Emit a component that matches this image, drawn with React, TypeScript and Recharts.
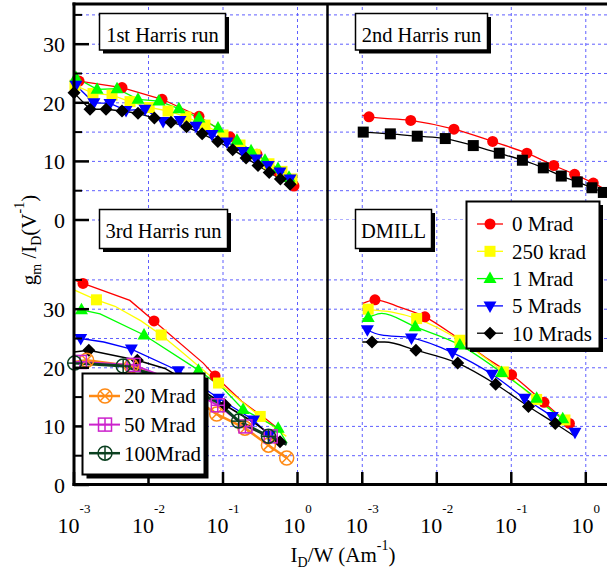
import React from 'react';
import { ComposedChart, Line, XAxis, YAxis, ReferenceLine } from 'recharts';

type Pt = [number, number];

// Each point: [I_D/W (A/m), g_m/I_D (1/V)]

// ---- 1st Harris run ----
const run1_0Mrad: Pt[] = [[0.00117, 23.7], [0.00441, 22.6], [0.0152, 20.6], [0.0476, 17.7], [0.124, 14.2], [0.286, 11.2], [0.547, 8.3], [0.897, 5.8]];
const run1_250krad: Pt[] = [[0.00103, 23.0], [0.0018, 21.6], [0.00324, 21.3], [0.00565, 20.2], [0.0102, 19.2], [0.0183, 18.6], [0.0318, 17.6], [0.0573, 16.2], [0.1, 14.5], [0.169, 12.8], [0.269, 11.2], [0.414, 9.6], [0.619, 8.3], [0.843, 7.0]];
const run1_1Mrad: Pt[] = [[0.00106, 24.3], [0.00204, 22.3], [0.00378, 22.4], [0.00723, 20.6], [0.0138, 20.3], [0.0256, 19.0], [0.0476, 17.4], [0.0857, 15.7], [0.154, 13.6], [0.238, 11.8], [0.366, 10.2], [0.547, 8.8], [0.769, 7.3]];
const run1_5Mrad: Pt[] = [[0.00106, 23.0], [0.00185, 20.0], [0.00304, 19.9], [0.00499, 18.7], [0.00897, 18.9], [0.0157, 16.8], [0.0265, 17.0], [0.0435, 16.0], [0.0711, 14.6], [0.113, 13.3], [0.185, 11.7], [0.277, 10.4], [0.402, 9.3], [0.582, 8.2], [0.793, 7.0]];
const run1_10Mrad: Pt[] = [[0.001, 21.7], [0.00164, 18.9], [0.00269, 18.9], [0.00441, 18.6], [0.00723, 18.2], [0.012, 17.4], [0.02, 16.7], [0.0324, 15.9], [0.0525, 14.7], [0.0851, 13.4], [0.135, 12.0], [0.204, 10.6], [0.295, 9.3], [0.417, 8.1], [0.589, 7.0], [0.794, 6.1]];

// ---- 2nd Harris run ----
const run2_0MradLine: Pt[] = [[0.001, 17.9], [0.00123, 17.6], [0.00447, 17.0], [0.017, 15.5], [0.0562, 13.4], [0.162, 11.4], [0.372, 9.3], [0.708, 7.8], [1.26, 6.3], [1.9, 5.1]];
const run2_0MradMarks: Pt[] = [[0.00123, 17.6], [0.00447, 17.0], [0.017, 15.5], [0.0562, 13.4], [0.162, 11.4], [0.372, 9.3], [0.708, 7.8], [1.26, 6.3]];
const run2_10Mrad: Pt[] = [[0.00103, 15.0], [0.00238, 14.7], [0.00547, 14.3], [0.013, 13.9], [0.0309, 12.7], [0.069, 11.4], [0.141, 10.2], [0.269, 8.9], [0.469, 7.5], [0.769, 6.5], [1.21, 5.5], [1.72, 4.7]];

// ---- 3rd Harris run ----
const run3_0MradLine: Pt[] = [[0.001, 35.0], [0.00132, 34.4], [0.00562, 31.5], [0.01186, 28.0], [0.0543, 20.8], [0.0782, 18.6], [0.178, 14.3], [0.355, 11.5], [0.631, 9.0]];
const run3_0MradMarks: Pt[] = [[0.00132, 34.4], [0.01186, 28.0], [0.0782, 18.6]];
const run3_250kradLine: Pt[] = [[0.001, 33.3], [0.002, 31.6], [0.00355, 30.5], [0.00794, 28.0], [0.0148, 25.6], [0.0263, 23.0], [0.0871, 17.4], [0.316, 11.7], [0.708, 8.3]];
const run3_250kradMarks: Pt[] = [[0.002, 31.6], [0.0148, 25.6], [0.0871, 17.4], [0.316, 11.7]];
const run3_1MradLine: Pt[] = [[0.001, 30.0], [0.00126, 29.9], [0.00224, 29.2], [0.00871, 25.6], [0.0468, 19.6], [0.1, 16.5], [0.186, 12.9], [0.55, 9.7], [0.724, 7.1]];
const run3_1MradMarks: Pt[] = [[0.00126, 29.9], [0.00871, 25.6], [0.0468, 19.6], [0.186, 12.9], [0.55, 9.7]];
const run3_5MradLine: Pt[] = [[0.001, 25.0], [0.00123, 25.0], [0.00251, 24.4], [0.00589, 23.2], [0.0251, 19.5], [0.0871, 14.8], [0.257, 11.1], [0.417, 8.5], [0.631, 7.5]];
const run3_5MradMarks: Pt[] = [[0.00123, 25.0], [0.00589, 23.2], [0.0251, 19.5], [0.0871, 14.8], [0.257, 11.1], [0.417, 8.5]];
const run3_10MradLine: Pt[] = [[0.001, 22.7], [0.00158, 23.0], [0.00708, 21.3], [0.0166, 19.9], [0.0501, 16.3], [0.107, 13.6], [0.251, 10.8], [0.582, 7.4], [0.708, 6.8]];
const run3_10MradMarks: Pt[] = [[0.00158, 23.0], [0.00708, 21.3], [0.107, 13.6], [0.582, 7.4]];
const run3_20MradLine: Pt[] = [[0.001, 21.0], [0.00148, 21.3], [0.00589, 20.3], [0.02, 17.5], [0.0822, 12.1], [0.197, 9.7], [0.407, 6.8], [0.716, 4.6]];
const run3_20MradMarks: Pt[] = [[0.00148, 21.3], [0.00589, 20.3], [0.0822, 12.1], [0.197, 9.7], [0.407, 6.8], [0.716, 4.6]];
const run3_50MradLine: Pt[] = [[0.001, 21.0], [0.0012, 21.0], [0.00631, 20.5], [0.02, 18.0], [0.0851, 13.6], [0.2, 10.0], [0.437, 8.3], [0.631, 7.6]];
const run3_50MradMarks: Pt[] = [[0.0012, 21.0], [0.00631, 20.5], [0.0851, 13.6], [0.2, 10.0], [0.437, 8.3]];
const run3_100MradLine: Pt[] = [[0.001, 20.8], [0.00102, 20.8], [0.00457, 20.3], [0.02, 18.0], [0.0832, 14.2], [0.162, 10.9], [0.407, 8.3], [0.716, 7.0]];
const run3_100MradMarks: Pt[] = [[0.00102, 20.8], [0.00457, 20.3], [0.162, 10.9], [0.407, 8.3]];

// ---- DMILL ----
const dmill_0MradLine: Pt[] = [[0.00102, 31.0], [0.00148, 31.6], [0.00324, 30.3], [0.00692, 28.7], [0.0195, 25.0], [0.0447, 21.8], [0.101, 18.8], [0.275, 14.1], [0.603, 10.5], [0.708, 10.0]];
const dmill_0MradMarks: Pt[] = [[0.00148, 31.6], [0.00692, 28.7], [0.101, 18.8], [0.275, 14.1], [0.603, 10.5]];
const dmill_250kradLine: Pt[] = [[0.001, 30.4], [0.0012, 30.0], [0.00251, 29.5], [0.00537, 28.4], [0.0204, 24.7], [0.0782, 19.3], [0.219, 14.6], [0.525, 11.1], [0.661, 10.3]];
const dmill_250kradMarks: Pt[] = [[0.0012, 30.0], [0.00537, 28.4], [0.0204, 24.7], [0.0782, 19.3], [0.219, 14.6], [0.525, 11.1]];
const dmill_1MradLine: Pt[] = [[0.001, 28.3], [0.0012, 28.6], [0.00182, 29.3], [0.00513, 27.0], [0.0204, 23.9], [0.0741, 19.2], [0.219, 14.8], [0.49, 11.3], [0.631, 10.5]];
const dmill_1MradMarks: Pt[] = [[0.0012, 28.6], [0.00513, 27.0], [0.0204, 23.9], [0.0741, 19.2], [0.219, 14.8], [0.49, 11.3]];
const dmill_5MradLine: Pt[] = [[0.001, 27.0], [0.00117, 26.5], [0.00178, 25.6], [0.00457, 25.1], [0.0162, 22.6], [0.055, 18.9], [0.151, 14.8], [0.355, 11.7], [0.716, 9.0]];
const dmill_5MradMarks: Pt[] = [[0.00117, 26.5], [0.00457, 25.1], [0.0162, 22.6], [0.055, 18.9], [0.151, 14.8], [0.355, 11.7], [0.716, 9.0]];
const dmill_10MradLine: Pt[] = [[0.001, 24.4], [0.00135, 24.4], [0.002, 24.4], [0.00525, 23.0], [0.0191, 20.8], [0.0617, 17.2], [0.17, 13.4], [0.389, 10.5], [0.676, 8.5]];
const dmill_10MradMarks: Pt[] = [[0.00135, 24.4], [0.00525, 23.0], [0.0191, 20.8], [0.0617, 17.2], [0.17, 13.4], [0.389, 10.5]];

// Axis ticks and labels
const decadeTicks = [0.001, 0.01, 0.1, 1];
const gmTicks = [0, 5, 10, 15, 20, 25, 30, 35];
const bottomGrid = [5, 10, 15, 20, 25, 30, 35];
const doseLegend = ['0 Mrad', '250 krad', '1 Mrad', '5 Mrads', '10 Mrads'];
const highDoseLegend = ['20 Mrad', '50 Mrad', '100Mrad'];

const FONT = '"Liberation Serif", "Times New Roman", Times, serif';
const GRID = '#5f5fff';

type Shape = 'circle' | 'square' | 'triUp' | 'triDown' | 'diamond' | 'circleX' | 'squarePlus' | 'circlePlus';

interface Series {
  key: string;
  line: Pt[];
  marks: Pt[];
  color: string;
  shape: Shape;
  width: number;
}

const RED = '#ff0000';
const YELLOW = '#ffff00';
const GREEN = '#00ff00';
const BLUE = '#0000ff';
const BLACK = '#000000';
const ORANGE = '#ff8a14';
const MAGENTA = '#cc22cc';
const DKGREEN = '#0b4020';

function Marker({ cx, cy, shape, color }: { cx: number; cy: number; shape: Shape; color: string }) {
  if (cx == null || cy == null || isNaN(cx) || isNaN(cy)) return null;
  switch (shape) {
    case 'circle':
      return <circle cx={cx} cy={cy} r={5.5} fill={color} />;
    case 'square':
      return <rect x={cx - 5.5} y={cy - 5.5} width={11} height={11} fill={color} />;
    case 'triUp':
      return <polygon points={`${cx},${cy - 7} ${cx + 6.5},${cy + 4.5} ${cx - 6.5},${cy + 4.5}`} fill={color} />;
    case 'triDown':
      return <polygon points={`${cx},${cy + 7} ${cx + 6.5},${cy - 4.5} ${cx - 6.5},${cy - 4.5}`} fill={color} />;
    case 'diamond':
      return <polygon points={`${cx},${cy - 6.5} ${cx + 6.5},${cy} ${cx},${cy + 6.5} ${cx - 6.5},${cy}`} fill={color} />;
    case 'circleX': {
      const d = 5;
      return (
        <g stroke={color} strokeWidth={1.5} fill="none">
          <circle cx={cx} cy={cy} r={7} />
          <line x1={cx - d} y1={cy - d} x2={cx + d} y2={cy + d} />
          <line x1={cx - d} y1={cy + d} x2={cx + d} y2={cy - d} />
        </g>
      );
    }
    case 'squarePlus':
      return (
        <g stroke={color} strokeWidth={1.5} fill="none">
          <rect x={cx - 6.5} y={cy - 6.5} width={13} height={13} />
          <line x1={cx - 6.5} y1={cy} x2={cx + 6.5} y2={cy} />
          <line x1={cx} y1={cy - 6.5} x2={cx} y2={cy + 6.5} />
        </g>
      );
    case 'circlePlus':
      return (
        <g stroke={color} strokeWidth={1.5} fill="none">
          <circle cx={cx} cy={cy} r={7} />
          <line x1={cx - 7} y1={cy} x2={cx + 7} y2={cy} />
          <line x1={cx} y1={cy - 7} x2={cx} y2={cy + 7} />
        </g>
      );
    default:
      return null;
  }
}

const same = (pts: Pt[]) => ({ line: pts, marks: pts });

const run1Series: Series[] = [
  { key: 'r1-0', ...same(run1_0Mrad), color: RED, shape: 'circle', width: 1.3 },
  { key: 'r1-250', ...same(run1_250krad), color: YELLOW, shape: 'square', width: 1.3 },
  { key: 'r1-1', ...same(run1_1Mrad), color: GREEN, shape: 'triUp', width: 1.3 },
  { key: 'r1-5', ...same(run1_5Mrad), color: BLUE, shape: 'triDown', width: 1.3 },
  { key: 'r1-10', ...same(run1_10Mrad), color: BLACK, shape: 'diamond', width: 1.3 },
];

const run2Series: Series[] = [
  { key: 'r2-0', line: run2_0MradLine, marks: run2_0MradMarks, color: RED, shape: 'circle', width: 1.3 },
  { key: 'r2-10', ...same(run2_10Mrad), color: BLACK, shape: 'square', width: 1.3 },
];

const run3Series: Series[] = [
  { key: 'r3-0', line: run3_0MradLine, marks: run3_0MradMarks, color: RED, shape: 'circle', width: 1.3 },
  { key: 'r3-250', line: run3_250kradLine, marks: run3_250kradMarks, color: YELLOW, shape: 'square', width: 1.3 },
  { key: 'r3-1', line: run3_1MradLine, marks: run3_1MradMarks, color: GREEN, shape: 'triUp', width: 1.3 },
  { key: 'r3-5', line: run3_5MradLine, marks: run3_5MradMarks, color: BLUE, shape: 'triDown', width: 1.3 },
  { key: 'r3-10', line: run3_10MradLine, marks: run3_10MradMarks, color: BLACK, shape: 'diamond', width: 1.6 },
  { key: 'r3-20', line: run3_20MradLine, marks: run3_20MradMarks, color: ORANGE, shape: 'circleX', width: 2.5 },
  { key: 'r3-50', line: run3_50MradLine, marks: run3_50MradMarks, color: MAGENTA, shape: 'squarePlus', width: 2 },
  { key: 'r3-100', line: run3_100MradLine, marks: run3_100MradMarks, color: DKGREEN, shape: 'circlePlus', width: 3 },
];

const dmillSeries: Series[] = [
  { key: 'd-0', line: dmill_0MradLine, marks: dmill_0MradMarks, color: RED, shape: 'circle', width: 1.3 },
  { key: 'd-250', line: dmill_250kradLine, marks: dmill_250kradMarks, color: YELLOW, shape: 'square', width: 1.3 },
  { key: 'd-1', line: dmill_1MradLine, marks: dmill_1MradMarks, color: GREEN, shape: 'triUp', width: 1.3 },
  { key: 'd-5', line: dmill_5MradLine, marks: dmill_5MradMarks, color: BLUE, shape: 'triDown', width: 1.3 },
  { key: 'd-10', line: dmill_10MradLine, marks: dmill_10MradMarks, color: BLACK, shape: 'diamond', width: 1.3 },
];

const legendShapes: { color: string; shape: Shape; width: number }[] = [
  { color: RED, shape: 'circle', width: 1.3 },
  { color: YELLOW, shape: 'square', width: 1.3 },
  { color: GREEN, shape: 'triUp', width: 1.3 },
  { color: BLUE, shape: 'triDown', width: 1.3 },
  { color: BLACK, shape: 'diamond', width: 1.3 },
];
const highLegendShapes: { color: string; shape: Shape; width: number }[] = [
  { color: ORANGE, shape: 'circleX', width: 2.5 },
  { color: MAGENTA, shape: 'squarePlus', width: 2 },
  { color: DKGREEN, shape: 'circlePlus', width: 2.5 },
];

const XTick = (props: any) => {
  const { x, y, payload } = props;
  const exp = Math.round(Math.log10(payload.value));
  return (
    <g>
      <line x1={x} y1={y} x2={x} y2={y - 13} stroke="#000" strokeWidth={2.5} />
      <text x={x} y={y + 48} textAnchor="middle" fontFamily={FONT} fontSize={22} fill="#000">
        10<tspan fontSize={13} dy={-20}>{exp}</tspan>
      </text>
    </g>
  );
};

const YTick = (props: any) => {
  const { x, y, payload } = props;
  const major = payload.value % 10 === 0;
  return (
    <g>
      <line x1={x} y1={y} x2={x + (major ? 15 : 8)} y2={y} stroke="#000" strokeWidth={major ? 2.5 : 2} />
      {major && (
        <text x={x - 9} y={y} dy="0.36em" textAnchor="end" fontFamily={FONT} fontSize={22} fill="#000">
          {payload.value}
        </text>
      )}
    </g>
  );
};

const toRows = (pts: Pt[]) => pts.map(([x, y]) => ({ x, y }));

interface PanelProps {
  series: Series[];
  xDomain: [number, number];
  yDomain: [number, number];
  width: number;
  height: number;
  margin: { top: number; right: number; bottom: number; left: number };
  showX: boolean;
  showY: boolean;
  curve: 'linear' | 'monotone';
  vGrid: number[];
  hGrid: number[];
}

function Panel({ series, xDomain, yDomain, width, height, margin, showX, showY, curve, vGrid, hGrid }: PanelProps) {
  return (
    <ComposedChart width={width} height={height} margin={margin}>
      <XAxis
        type="number"
        dataKey="x"
        scale="log"
        domain={xDomain}
        ticks={decadeTicks}
        interval={0}
        hide={!showX}
        height={88}
        tickLine={false}
        axisLine={false}
        tickSize={0}
        tickMargin={0}
        tick={<XTick />}
      />
      <YAxis
        type="number"
        dataKey="y"
        domain={yDomain}
        ticks={gmTicks}
        interval={0}
        hide={!showY}
        width={74}
        tickLine={false}
        axisLine={false}
        tickSize={0}
        tickMargin={0}
        tick={<YTick />}
      />
      {hGrid.map((v) => (
        <ReferenceLine key={`h${v}`} y={v} stroke={GRID} strokeDasharray="3 3" strokeWidth={1} />
      ))}
      {vGrid.map((v) => (
        <ReferenceLine key={`v${v}`} x={v} stroke={GRID} strokeDasharray="3 3" strokeWidth={1} />
      ))}
      {series.map((s) => (
        <Line
          key={`${s.key}-line`}
          data={toRows(s.line)}
          dataKey="y"
          type={curve}
          stroke={s.color}
          strokeWidth={s.width}
          dot={false}
          activeDot={false}
          isAnimationActive={false}
        />
      ))}
      {series.map((s) => (
        <Line
          key={`${s.key}-marks`}
          data={toRows(s.marks)}
          dataKey="y"
          stroke="none"
          activeDot={false}
          isAnimationActive={false}
          dot={(p: any) => (
            <Marker key={`${s.key}-m${p.index}`} cx={p.cx} cy={p.cy} shape={s.shape} color={s.color} />
          )}
        />
      ))}
    </ComposedChart>
  );
}

function LabelBox({ x, y, w, h, text }: { x: number; y: number; w: number; h: number; text: string }) {
  return (
    <g>
      <rect x={x + 3.5} y={y + 3.5} width={w} height={h} fill="#000" />
      <rect x={x} y={y} width={w} height={h} fill="#fff" stroke="#000" strokeWidth={1.5} />
      <text x={x + w / 2} y={y + 28.5} textAnchor="middle" fontSize={20.5} fontFamily={FONT} fill="#000">
        {text}
      </text>
    </g>
  );
}

// Panel geometry: decade width 74.5 px, right panels start a half decade before 10^-3
const leftX: [number, number] = [0.001, 2.566];
const rightX: [number, number] = [3.467e-4, 2.113];
const topY: [number, number] = [0, 36.86];
const bottomY: [number, number] = [0, 45.22];

export default function App() {
  return (
    <div
      style={{
        position: 'absolute',
        left: 0,
        top: 0,
        width: 607,
        height: 573,
        overflow: 'hidden',
        background: '#fff',
        fontFamily: FONT,
      }}
    >
      <div style={{ position: 'absolute', left: 0, top: 0 }}>
        <Panel
          series={run1Series}
          xDomain={leftX}
          yDomain={topY}
          width={328}
          height={232}
          margin={{ top: 4, right: 0, bottom: 12, left: 0 }}
          showX={false}
          showY={true}
          curve="linear"
          vGrid={[0.01, 0.1, 1]}
          hGrid={gmTicks}
        />
      </div>
      <div style={{ position: 'absolute', left: 328, top: 0 }}>
        <Panel
          series={run2Series}
          xDomain={rightX}
          yDomain={topY}
          width={282}
          height={220}
          margin={{ top: 4, right: 0, bottom: 0, left: 0 }}
          showX={false}
          showY={false}
          curve="monotone"
          vGrid={decadeTicks}
          hGrid={gmTicks}
        />
      </div>
      <div style={{ position: 'absolute', left: 0, top: 220 }}>
        <Panel
          series={run3Series}
          xDomain={leftX}
          yDomain={bottomY}
          width={328}
          height={353}
          margin={{ top: 0, right: 0, bottom: 0, left: 0 }}
          showX={true}
          showY={true}
          curve="linear"
          vGrid={[0.01, 0.1, 1]}
          hGrid={bottomGrid}
        />
      </div>
      <div style={{ position: 'absolute', left: 328, top: 220 }}>
        <Panel
          series={dmillSeries}
          xDomain={rightX}
          yDomain={bottomY}
          width={282}
          height={353}
          margin={{ top: 0, right: 0, bottom: 0, left: 0 }}
          showX={true}
          showY={false}
          curve="monotone"
          vGrid={decadeTicks}
          hGrid={bottomGrid}
        />
      </div>

      <svg width={607} height={573} style={{ position: 'absolute', left: 0, top: 0, pointerEvents: 'none' }}>
        {/* frame */}
        <line x1={72.5} y1={4} x2={607} y2={4} stroke="#000" strokeWidth={3} />
        <line x1={74} y1={2.5} x2={74} y2={486} stroke="#000" strokeWidth={3} />
        <line x1={72.5} y1={484.5} x2={607} y2={484.5} stroke="#000" strokeWidth={3} />
        <line x1={327.5} y1={4} x2={327.5} y2={485} stroke="#000" strokeWidth={2.5} />

        <LabelBox x={99.5} y={13.5} w={126} h={36.5} text="1st Harris run" />
        <LabelBox x={355.5} y={13.5} w={132} h={36.5} text="2nd Harris run" />
        <LabelBox x={99.5} y={209.5} w={128} h={39} text="3rd Harris run" />
        <LabelBox x={355.5} y={209.5} w={76} h={39} text="DMILL" />

        {/* dose legend */}
        <rect x={470} y={205} width={133} height={147} fill="#000" />
        <rect x={466.5} y={201.5} width={133} height={147} fill="#fff" stroke="#000" strokeWidth={2} />
        {doseLegend.map((name, i) => {
          const cy = 224 + i * 27.3;
          const st = legendShapes[i];
          return (
            <g key={name}>
              <line x1={477} y1={cy} x2={503} y2={cy} stroke={st.color} strokeWidth={st.width} />
              <Marker cx={490} cy={cy} shape={st.shape} color={st.color} />
              <text x={512} y={cy} dy="0.35em" fontSize={21} fontFamily={FONT} fill="#000">
                {name}
              </text>
            </g>
          );
        })}

        {/* high dose legend */}
        <rect x={86.5} y={377.5} width={122} height={101} fill="#000" />
        <rect x={82.5} y={373.5} width={122} height={101} fill="#fff" stroke="#000" strokeWidth={2} />
        {highDoseLegend.map((name, i) => {
          const cy = 396 + i * 28.6;
          const st = highLegendShapes[i];
          return (
            <g key={name}>
              <line x1={89} y1={cy} x2={120} y2={cy} stroke={st.color} strokeWidth={st.width} />
              <Marker cx={105} cy={cy} shape={st.shape} color={st.color} />
              <text x={124} y={cy} dy="0.35em" fontSize={21} fontFamily={FONT} fill="#000">
                {name}
              </text>
            </g>
          );
        })}

        {/* axis titles */}
        <text x={343} y={562} textAnchor="middle" fontSize={21} fontFamily={FONT} fill="#000">
          I<tspan fontSize={14} dy={5}>D</tspan>
          <tspan dy={-5}>/W (Am</tspan>
          <tspan fontSize={14} dy={-12}>-1</tspan>
          <tspan dy={12}>)</tspan>
        </text>
        <text
          x={0}
          y={0}
          transform="translate(36,240) rotate(-90)"
          textAnchor="middle"
          fontSize={21}
          fontFamily={FONT}
          fill="#000"
        >
          g<tspan fontSize={14} dy={5}>m</tspan>
          <tspan dy={-5}> /I</tspan>
          <tspan fontSize={14} dy={5}>D</tspan>
          <tspan dy={-5}>(V</tspan>
          <tspan fontSize={14} dy={-12}>-1</tspan>
          <tspan dy={12}>)</tspan>
        </text>
      </svg>
    </div>
  );
}
